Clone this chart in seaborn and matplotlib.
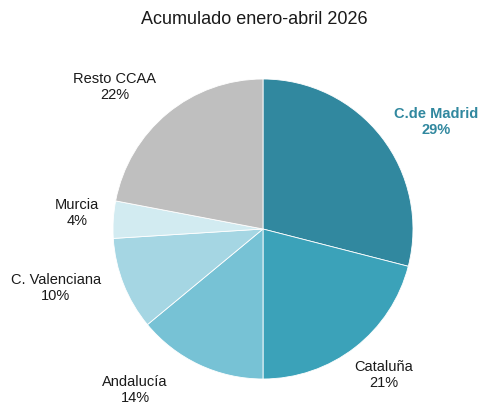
import matplotlib
matplotlib.use("Agg")
import matplotlib.pyplot as plt
import seaborn as sns

regions = ["C.de Madrid", "Cataluña", "Andalucía", "C. Valenciana", "Murcia", "Resto CCAA"]
shares = [29, 21, 14, 10, 4, 22]
colors = ["#31889F", "#3BA2B9", "#77C2D5", "#A5D6E3", "#D2EBF1", "#BFBFBF"]
title = "Acumulado enero-abril 2026"

sns.set_theme(style="white")
plt.rcParams["font.family"] = ["Liberation Sans", "DejaVu Sans"]

fig = plt.figure(figsize=(4.8, 4.03), dpi=100)
ax = fig.add_axes([0, 0, 1, 1])
ax.pie(shares, colors=colors, startangle=90, counterclock=False, radius=1,
       wedgeprops=dict(edgecolor="white", linewidth=0.6))
ax.set_xlim(-1.7533, 1.4467)
ax.set_ylim(-1.16, 1.5267)
ax.set_aspect("equal")
ax.axis("off")

label_pos = [(1.153, 0.713), (0.807, -0.973), (-0.853, -1.073),
             (-1.38, -0.393), (-1.24, 0.107), (-0.987, 0.947)]
for i, (name, val) in enumerate(zip(regions, shares)):
    x, y = label_pos[i]
    if i == 0:
        ax.text(x, y, f"{name}\n{val}%", ha="center", va="center", fontsize=10.5,
                fontweight="bold", color=colors[0], linespacing=1.2)
    else:
        ax.text(x, y, f"{name}\n{val}%", ha="center", va="center", fontsize=10.5,
                color="#1a1a1a", linespacing=1.2)

fig.text(254 / 480, 1 - 20 / 403, title, ha="center", va="center", fontsize=13, color="#1a1a1a")

fig.savefig("out.png", dpi=100)
